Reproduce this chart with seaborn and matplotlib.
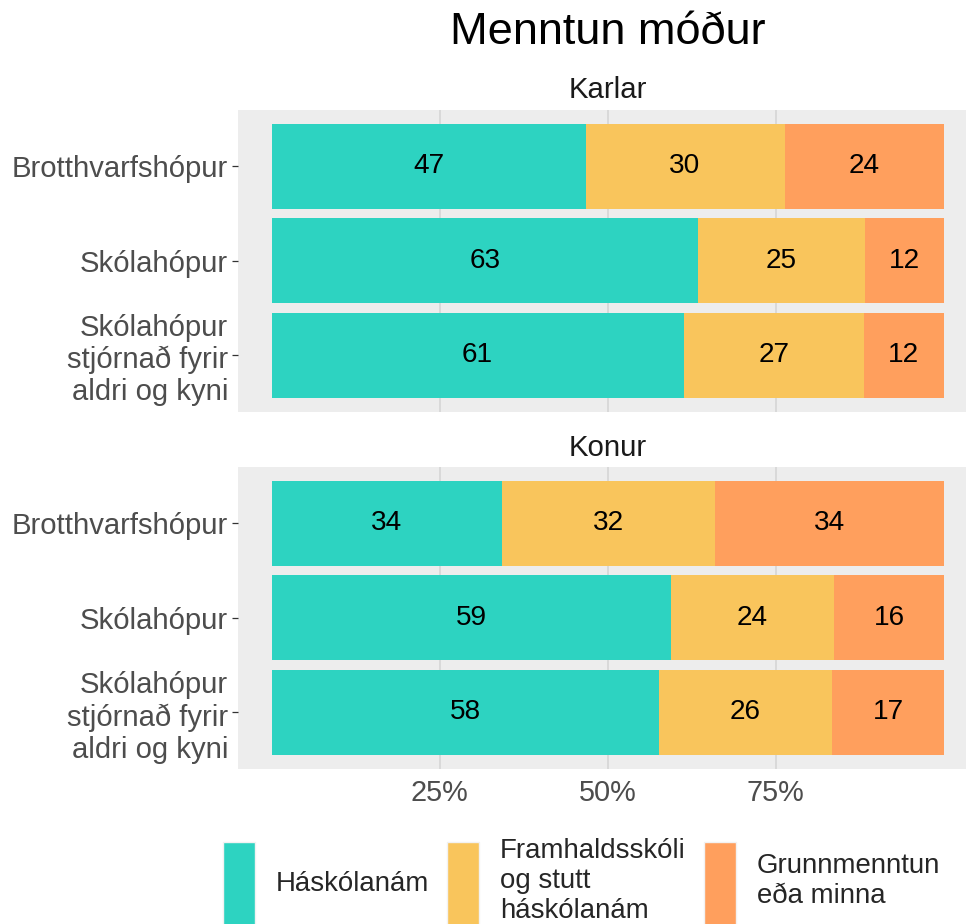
import matplotlib
matplotlib.use("Agg")
import matplotlib.pyplot as plt
import seaborn as sns
import pandas as pd
from matplotlib.patches import Patch

# ---------------- data ----------------
title = "Menntun móður"
panels = ["Karlar", "Konur"]
groups = ["Brotthvarfshópur", "Skólahópur", "Skólahópur\nstjórnað fyrir\naldri og kyni"]
levels = ["Háskólanám", "Framhaldsskóli\nog stutt\nháskólanám", "Grunnmenntun\neða minna"]

karlar_haskola = [46.7, 63.4, 61.3]
karlar_framh = [29.6, 24.8, 26.8]
karlar_grunn = [23.7, 11.8, 11.9]

konur_haskola = [34.2, 59.4, 57.6]
konur_framh = [31.8, 24.3, 25.8]
konur_grunn = [34.0, 16.3, 16.6]

xticks = [25, 50, 75]
xticklabels = ["25%", "50%", "75%"]

colors = ["#2DD3C1", "#F9C55C", "#FF9F5D"]

# ---------------- style ----------------
sns.set_style("white")
plt.rcParams["font.family"] = ["Liberation Sans", "DejaVu Sans"]

W, H = 966, 924
fig = plt.figure(figsize=(W / 100, H / 100), dpi=100)

panel_data = {
    "Karlar": [karlar_haskola, karlar_framh, karlar_grunn],
    "Konur": [konur_haskola, konur_framh, konur_grunn],
}

left = 238 / W
width = 739.5 / W
panel_pix = [(109.7, 411.7), (466.7, 769.0)]
strip_y = [90, 448]
xc = 608 / W

for k, name in enumerate(panels):
    top, bot = panel_pix[k]
    ax = fig.add_axes([left, 1 - bot / H, width, (bot - top) / H])
    ax.set_facecolor("#EDEDED")
    series = panel_data[name]
    df = pd.DataFrame({"group": groups})
    cum = [0, 0, 0]
    cums = []
    for s in series:
        cum = [a + b for a, b in zip(cum, s)]
        cums.append(cum)
    for i in range(len(series) - 1, -1, -1):
        df["v"] = cums[i]
        sns.barplot(data=df, x="v", y="group", order=groups, orient="h",
                    color=colors[i], saturation=1, width=0.9, errorbar=None,
                    linewidth=0, ax=ax)
    # value labels
    for i, s in enumerate(series):
        for j, v in enumerate(s):
            start = cums[i][j] - v
            ax.text(start + v / 2, j, f"{v:.0f}", ha="center", va="center",
                    fontsize=20.2, color="black")
    ax.set_xlim(-5, 105)
    ax.set_ylim(2.6, -0.6)
    ax.set_xlabel("")
    ax.set_ylabel("")
    ax.set_xticks(xticks)
    ax.grid(axis="x", color="#D6D6D6", lw=1.2)
    ax.grid(axis="y", visible=False)
    ax.set_axisbelow(True)
    for sp in ax.spines.values():
        sp.set_visible(False)
    ax.tick_params(axis="y", length=4.3, width=0.9, color="#333333",
                   labelsize=21.1, labelcolor="#4D4D4D", pad=2.9, left=True)
    for lab in ax.get_yticklabels():
        lab.set_linespacing(1.18)
    if k == len(panels) - 1:
        ax.set_xticklabels(xticklabels)
        ax.tick_params(axis="x", length=0, labelsize=20.8, labelcolor="#4D4D4D", pad=7)
    else:
        ax.set_xticklabels([])
        ax.tick_params(axis="x", length=0)
    fig.text(xc, 1 - strip_y[k] / H, name, ha="center", va="center",
             fontsize=21.2, color="#1A1A1A")

fig.text(xc, 1 - 33 / H, title, ha="center", va="center", fontsize=32.5, color="black")

handles = [Patch(facecolor=c, edgecolor="#F2F2F2", lw=1) for c in colors]
fig.legend(handles=handles, labels=levels, loc="upper left",
           bbox_to_anchor=(223 / W, 1 - 838 / H), ncol=3, frameon=False,
           fontsize=19.9, handlelength=1.16, handleheight=4.25,
           handletextpad=0.75, columnspacing=0.66, borderpad=0, borderaxespad=0)

fig.savefig("out.png", dpi=100)
